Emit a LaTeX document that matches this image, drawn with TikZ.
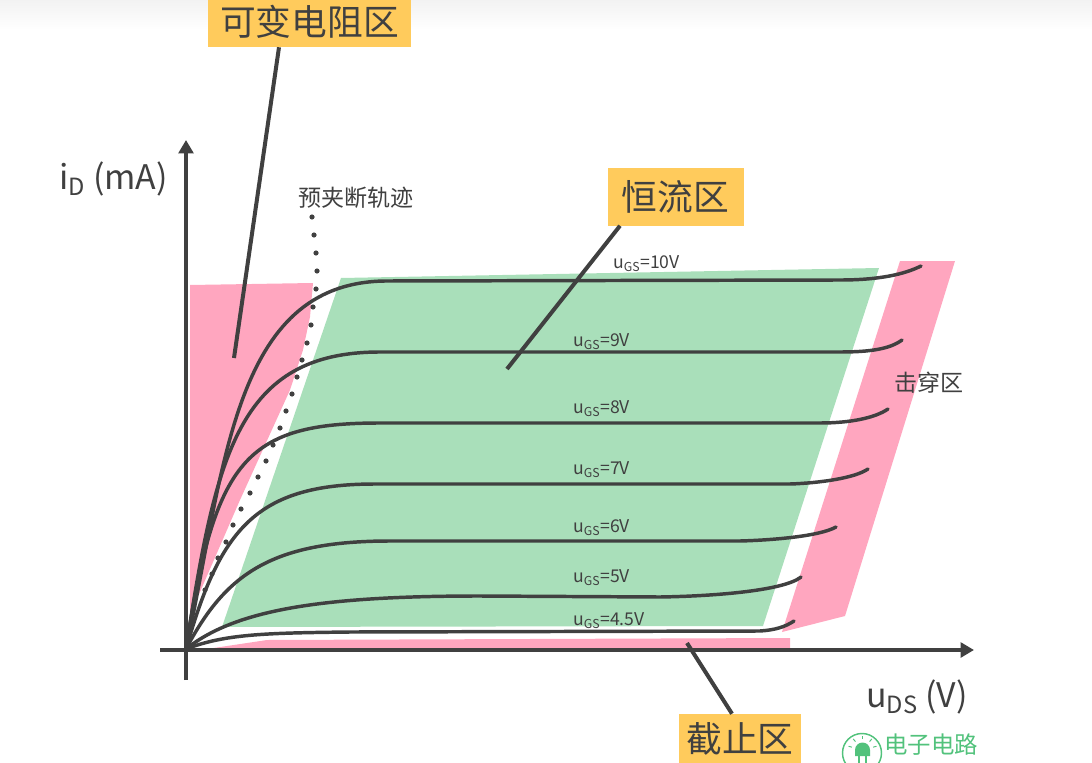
\documentclass[tikz,border=0pt]{standalone}
\usepackage{fontspec}
\setmainfont{Noto Sans CJK SC}
\usetikzlibrary{arrows.meta}
\definecolor{ink}{HTML}{404040}
\definecolor{pinkz}{HTML}{FFA6BF}
\definecolor{greenz}{HTML}{A9DFBA}
\definecolor{tag}{HTML}{FFCB5C}
\definecolor{logo}{HTML}{52C27C}
\newcommand{\fs}[1]{\fontsize{#1}{#1}\selectfont}
\tikzset{
 x=0.75pt,y=-0.75pt,
 curve/.style={draw=ink,line width=2.6pt,line cap=round},
 axis/.style={draw=ink,line width=3pt,-{Triangle[length=10pt,width=11pt]}},
 pointer/.style={draw=ink,line width=3pt},
 tagbox/.style={fill=tag,text=ink,inner sep=0pt,font=\fs{26.8}},
 lab/.style={text=ink,inner sep=0pt,font=\fs{13.2}},
 side/.style={text=ink,inner sep=0pt,font=\fs{17.3}},
 axl/.style={text=ink,inner sep=0pt,font=\fs{25.4}},
}
\begin{document}
\begin{tikzpicture}
\useasboundingbox (0,0) rectangle (1092,763);
\shade[top color=black!5,bottom color=white] (0,0) rectangle (1092,30);
% regions
\fill[pinkz] (190,285) -- (313,283) -- (310,317) -- (303,350) -- (290,390) -- (240,500) -- (190,615) -- cycle;
\fill[pinkz] (900,261) -- (955,261) -- (845,616) -- (782,632) -- cycle;
\fill[pinkz] (207,649) -- (267,640) -- (790,638) -- (790,649) -- cycle;
\fill[greenz] (341,278) -- (879,268) -- (763,626) -- (222,627) -- cycle;
% dotted trajectory
\foreach \p in {(312,217),(314,235),(316,253),(317,271),(316,289),(313,307),(311,325),(307,343),(302,360),(297,377),(292,394),(286,411),(280,428),(273,445),(266,461),(258,477),(250,493),(241,509),(233,525),(226,542),(218,558),(212,574),(205,590)}
 \fill[ink] \p circle (2.6);
% axes
\coordinate (o) at (186,649);
\coordinate (ybot) at (186,680);
\coordinate (ytop) at (186,140);
\coordinate (xleft) at (160,650);
\coordinate (xright) at (974,650);
\draw[axis] (ybot) -- (ytop);
\draw[axis] (xleft) -- (xright);
% curves
\draw[curve] (o) .. controls (225,470) and (232,283) .. (385,281) -- (840,280) .. controls (880,280) and (905,274) .. (921,266);
\draw[curve] (o) .. controls (216,455) and (238,352) .. (380,352) -- (840,352) .. controls (870,352) and (890,349) .. (902,340);
\draw[curve] (o) .. controls (215,460) and (245,423) .. (380,423) -- (820,423) .. controls (850,423) and (875,418) .. (888,409);
\draw[curve] (o) .. controls (220,530) and (255,484) .. (375,484) -- (790,484) .. controls (820,483) and (855,478) .. (868,469);
\draw[curve] (o) .. controls (225,575) and (270,541) .. (390,541) -- (740,541) .. controls (775,540) and (820,536) .. (836,527);
\draw[curve] (o) .. controls (235,610) and (320,596) .. (480,596) -- (660,597) .. controls (720,596) and (785,590) .. (801,577);
\draw[curve] (o) .. controls (225,634) and (265,633) .. (350,632) -- (760,631) .. controls (775,630) and (785,627) .. (794,621);
% curve labels
\node[lab,anchor=base west] (u10) at (613,268) {u\textsubscript{GS}=10V};
\node[lab,anchor=base west] (u9) at (573,346) {u\textsubscript{GS}=9V};
\node[lab,anchor=base west] (u8) at (573,413) {u\textsubscript{GS}=8V};
\node[lab,anchor=base west] (u7) at (573,474) {u\textsubscript{GS}=7V};
\node[lab,anchor=base west] (u6) at (573,532) {u\textsubscript{GS}=6V};
\node[lab,anchor=base west] (u5) at (573,582) {u\textsubscript{GS}=5V};
\node[lab,anchor=base west] (u45) at (573,625) {u\textsubscript{GS}=4.5V};
% side labels
\node[side,anchor=center] (jd) at (356,198) {预夹断轨迹};
\node[side,anchor=center] (jc) at (929,383) {击穿区};
% axis labels
\node[axl,anchor=base west] (yl) at (59,190) {i\textsubscript{D} (mA)};
\node[axl,anchor=base west] (xl) at (866,707) {u\textsubscript{DS} (V)};
% tags
\node[tagbox,minimum width=203*0.75pt,minimum height=50*0.75pt] (t1) at (309.5,22) {可变电阻区};
\node[tagbox,minimum width=136*0.75pt,minimum height=57*0.75pt] (t2) at (675.5,197) {恒流区};
\node[tagbox,minimum width=122*0.75pt,minimum height=50*0.75pt] (t3) at (740,739) {截止区};
% pointers
\coordinate (p1) at (234,358);
\coordinate (p2) at (507,369);
\coordinate (p3) at (687,643);
\draw[pointer] (t1.south -| 279,0) -- (p1);
\draw[pointer] (t2.south -| 620,0) -- (p2);
\draw[pointer] (t3.north -| 732,0) -- (p3);
% logo
\node[inner sep=0pt,text=logo,font=\fs{17.6},anchor=center] (lg) at (931,745) {电子电路};
\draw[logo,line width=1.1pt] (862,753) circle (19.5);
\fill[logo] (855,756) -- (855,750) arc (180:360:7.5) -- (870,756) -- cycle;
\draw[logo,line width=0.8pt] (859,756) -- (859,763) (866,756) -- (866,763);
\foreach \a in {-165,-130,-90,-50,-15}
 \draw[logo,line width=0.7pt] (862.5,750) ++(\a:11) -- ++(\a:3.5);
\end{tikzpicture}
\end{document}
